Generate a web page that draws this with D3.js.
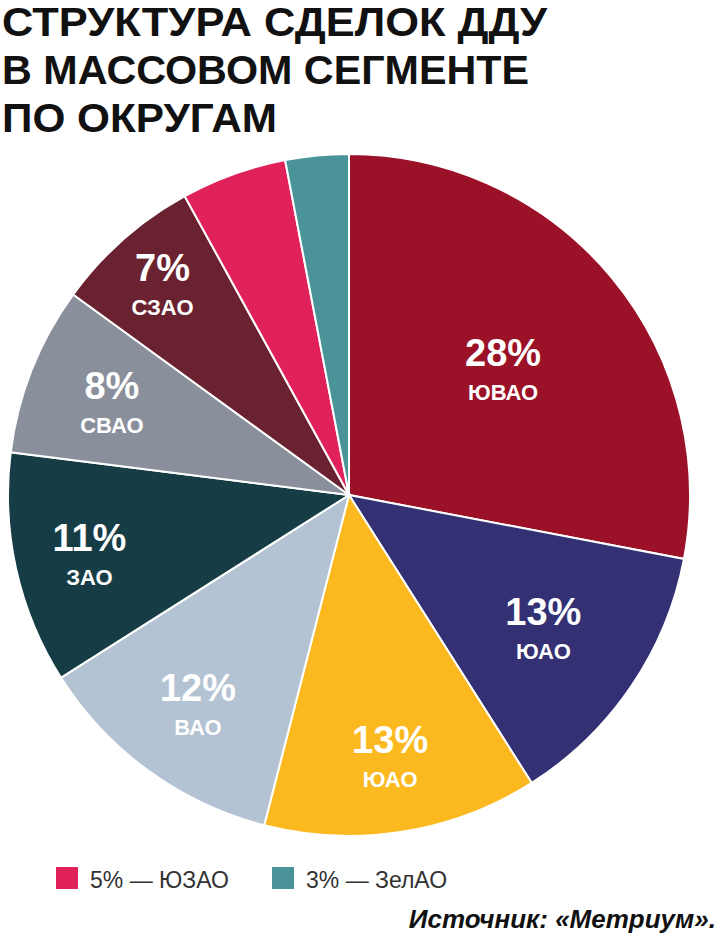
<!DOCTYPE html>
<html><head><meta charset="utf-8">
<script src="https://cdn.jsdelivr.net/npm/d3@7"></script>
<style>body{margin:0;background:#fff}</style></head>
<body><svg id="c" width="720" height="939"></svg>
<script>
const names=["ЮВАО","ЮАО","ЮАО","ВАО","ЗАО","СВАО","СЗАО","ЮЗАО","ЗелАО"];
const values=[28,13,13,12,11,8,7,5,3];
const colors=["#9b1127","#333173","#fbb91f","#b4c3d3","#163c45","#8a8f9c","#6b2230","#e0215a","#4a9499"];
const showLabel=[1,1,1,1,1,1,1,0,0];
const labelR=[200,235,263,257,266,255,282,0,0];
const svg=d3.select("#c");
const title=["СТРУКТУРА СДЕЛОК  ДДУ","В МАССОВОМ СЕГМЕНТЕ","ПО ОКРУГАМ"];
const tw=[545,527,275];
title.forEach((t,i)=>svg.append("text").attr("x",2).attr("y",36+i*48).attr("font-family","Liberation Sans, Arial").attr("font-weight","bold").attr("font-size",40).attr("textLength",tw[i]).attr("lengthAdjust","spacingAndGlyphs").attr("fill","#111").text(t));
const cx=349,cy=495,R=341;
const pie=d3.pie().sort(null).value(d=>d)(values);
const g=svg.append("g").attr("transform",`translate(${cx},${cy})`);
const arc=d3.arc().innerRadius(0).outerRadius(R);
g.selectAll("path").data(pie).join("path").attr("d",arc).attr("fill",(d,i)=>colors[i]).attr("stroke","#fff").attr("stroke-width",2);
pie.forEach((d,i)=>{if(!showLabel[i])return;
 const c=d3.arc().innerRadius(labelR[i]).outerRadius(labelR[i]).centroid(d);
 g.append("text").attr("x",c[0]).attr("y",c[1]-2).attr("text-anchor","middle").attr("font-family","Liberation Sans, Arial").attr("font-weight","bold").attr("font-size",38).attr("fill","#fff").text(values[i]+"%");
 g.append("text").attr("x",c[0]).attr("y",c[1]+32).attr("text-anchor","middle").attr("font-family","Liberation Sans, Arial").attr("font-weight","bold").attr("font-size",22).attr("fill","#fff").text(names[i]);
});
[[7,56],[8,272]].forEach(([i,x])=>{
 svg.append("rect").attr("x",x).attr("y",867).attr("width",22).attr("height",22).attr("fill",colors[i]);
 svg.append("text").attr("x",x+34).attr("y",888).attr("font-family","Liberation Sans, Arial").attr("font-size",23).attr("fill","#333").text(values[i]+"% — "+names[i]);
});
svg.append("text").attr("x",716).attr("y",928).attr("text-anchor","end").attr("font-family","Liberation Sans, Arial").attr("font-weight","bold").attr("font-style","italic").attr("font-size",26).attr("fill","#111").text("Источник: «Метриум».");
</script></body></html>
